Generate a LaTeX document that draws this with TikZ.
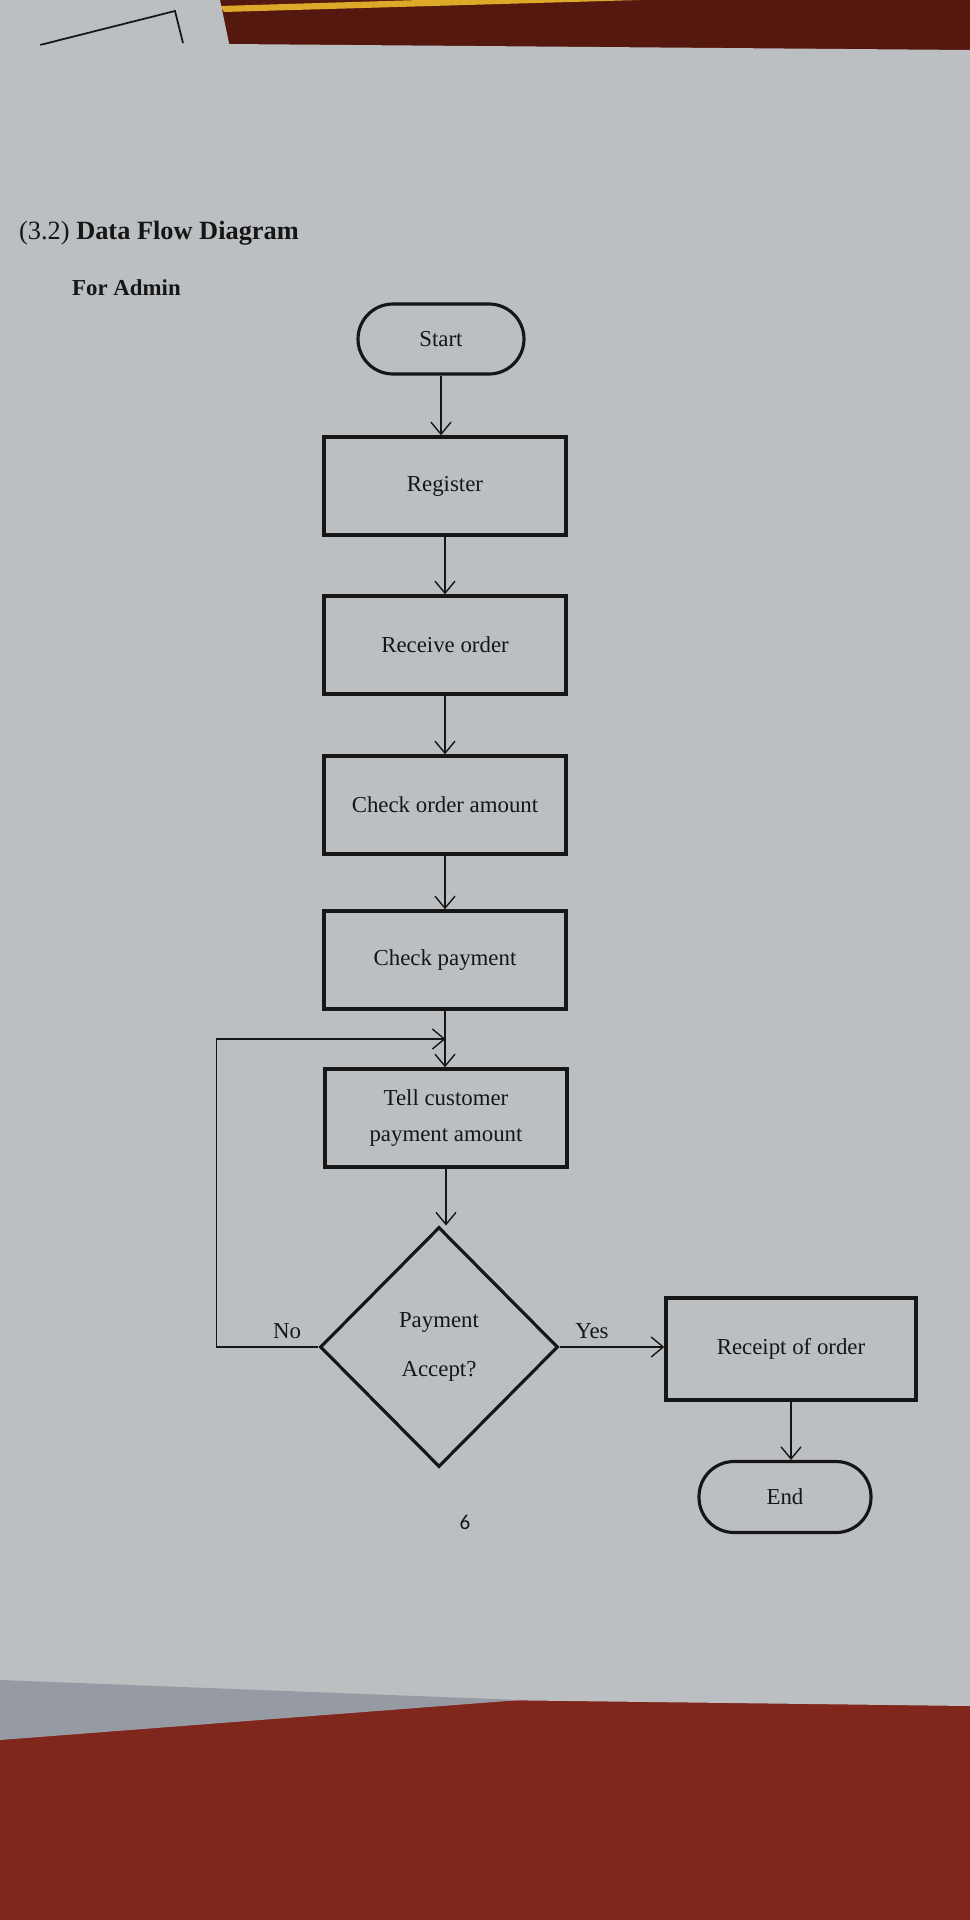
\documentclass[tikz,border=0pt]{standalone}
\usepackage{fontspec}
\setmainfont{Liberation Serif}
\newfontfamily\pagefont{Carlito}
\usetikzlibrary{shapes.geometric,arrows.meta,calc}

\definecolor{papel}{RGB}{188,191,194}
\definecolor{sombra}{RGB}{150,154,162}
\definecolor{mesa}{RGB}{128,38,28}
\definecolor{fondo}{RGB}{84,24,14}
\definecolor{brillo}{RGB}{220,170,40}
\definecolor{tinta}{RGB}{22,22,22}

\begin{document}
\begin{tikzpicture}[x=0.02cm, y=-0.02cm,
  texto/.style={text=tinta, font=\fontsize{13}{20}\selectfont},
  caja/.style={texto, draw=tinta, line width=2pt, minimum width=4.84cm, minimum height=1.96cm, align=center, inner sep=2pt},
  term/.style={texto, draw=tinta, line width=1.8pt, minimum width=3.32cm, minimum height=1.4cm, rounded corners=0.7cm},
  decision/.style={text=tinta, font=\fontsize{13}{28}\selectfont, draw=tinta, line width=1.8pt, diamond, minimum width=4.76cm, minimum height=4.8cm, inner sep=0pt, align=center},
  flecha/.style={draw=tinta, line width=0.8pt, -{Straight Barb[length=2.4mm, width=4mm]}}]

\useasboundingbox (0,0) rectangle (970,1920);

% Fondo: mesa y hojas
\fill[mesa] (0,0) rectangle (970,1920);
\fill[fondo] (0,0) rectangle (970,60);
\fill[brillo] (220,6) -- (420,0) -- (640,0) -- (224,12) -- cycle;
\fill[papel] (0,0) -- (220,0) -- (230,48) -- (0,48) -- cycle;
\draw[tinta, line width=1pt] (40,45) -- (175,11) -- (183,43);
\fill[papel] (0,46) -- (227,44) -- (970,50) -- (970,1706) -- (490,1700) -- (0,1684) -- cycle;
\fill[sombra] (0,1680) -- (520,1700) -- (0,1740) -- cycle;

% Titulos
\node[texto, anchor=west, font=\fontsize{15}{18}\selectfont] (titulo) at (13,233) {(3.2) \textbf{Data Flow Diagram}};
\node[texto, anchor=west] (admin) at (66,288) {\textbf{For Admin}};

% Pasos
\node[term] (start) at (441,339) {Start};
\node[caja] (reg) at (445,486) {Register};
\node[caja] (recv) at (445,645) {Receive order};
\node[caja] (chkamt) at (445,805) {Check order amount};
\node[caja] (chkpay) at (445,960) {Check payment};
\node[caja] (tell) at (446,1118) {Tell customer\\payment amount};
\node[decision] (pay) at (439,1347) {Payment\\Accept?};
\node[caja, minimum width=5cm, minimum height=2.04cm] (receipt) at (791,1349) {Receipt of order};
\node[term, minimum width=3.44cm, minimum height=1.42cm] (stop) at (785,1497) {End};

% Flechas
\foreach \a/\b in {start/reg, reg/recv, recv/chkamt, chkamt/chkpay, chkpay/tell, tell/pay, receipt/stop}
  \draw[flecha] (\a.south) -- (\a.south |- \b.north);

\coordinate (junta) at ($(chkpay.south)!0.5!(tell.north)$);
\draw[flecha] (pay.west) -- ++(-102,0) |- (junta);
\draw[flecha] (pay.east) -- (pay.east -| receipt.west);

\node[texto] (no) at (287,1331) {No};
\node[texto] (yes) at (592,1331) {Yes};

\node[text=tinta, font=\pagefont\fontsize{12}{14}\selectfont] (pagina) at (465,1522) {6};
\end{tikzpicture}
\end{document}
